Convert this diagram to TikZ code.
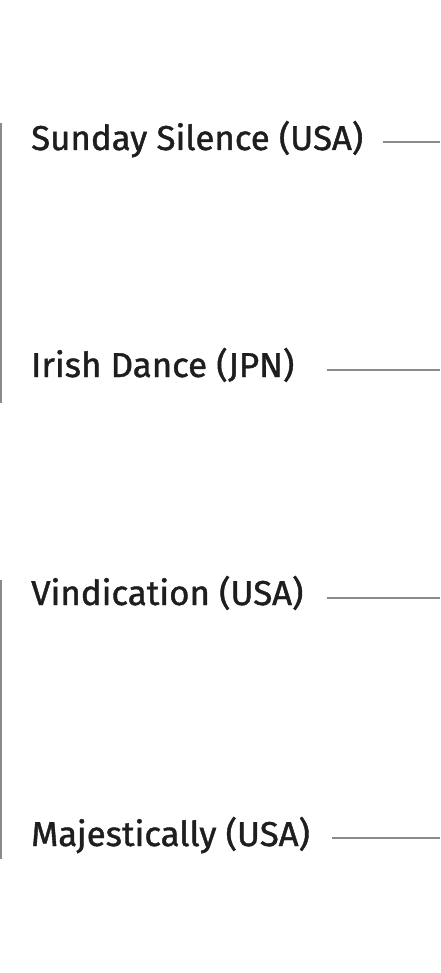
\documentclass[tikz,border=0pt]{standalone}
\usepackage{fontspec}
\newfontfamily\lblfont{Fira Sans}[Ligatures={NoCommon}, FakeBold=1.2, FakeStretch=1.01]
\definecolor{txt}{HTML}{1E1E1E}
\definecolor{rule}{HTML}{8A8A8A}
\tikzset{
  lbl/.style={anchor=base west, inner sep=0pt, text=txt, font=\lblfont\fontsize{34.5}{40}\selectfont},
  hline/.style={draw=rule, line width=1.3pt},
  vline/.style={draw=rule, line width=1.5pt},
}
\begin{document}
\begin{tikzpicture}[x=1pt,y=-1pt]
\useasboundingbox (0,0) rectangle (440,973);
\node[lbl] (n1) at (31,150) {Sunday Silence (USA)};
\node[lbl] (n2) at (31,377) {Irish Dance (JPN)};
\node[lbl] (n3) at (31,605) {Vindication (USA)};
\node[lbl] (n4) at (31,846) {Majestically (USA)};
\coordinate (a1) at (383,142); \coordinate (b1) at (440,142);
\coordinate (a2) at (327,370); \coordinate (b2) at (440,370);
\coordinate (a3) at (327,598); \coordinate (b3) at (440,598);
\coordinate (a4) at (332,838); \coordinate (b4) at (440,838);
\draw[hline] (a1) -- (b1);
\draw[hline] (a2) -- (b2);
\draw[hline] (a3) -- (b3);
\draw[hline] (a4) -- (b4);
\coordinate (v1t) at (0.75,123); \coordinate (v1b) at (0.75,403);
\coordinate (v2t) at (0.75,580); \coordinate (v2b) at (0.75,859);
\draw[vline] (v1t) -- (v1b);
\draw[vline] (v2t) -- (v2b);
\end{tikzpicture}
\end{document}
